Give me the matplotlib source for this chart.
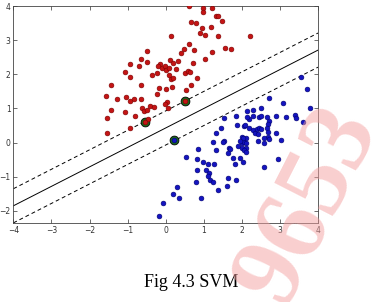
import numpy as np
import matplotlib
matplotlib.use("Agg")
import matplotlib.pyplot as plt

# Class 1 (red) points
red_x = [0.15, -0.50, 0.49, 0.40, 0.32, 0.10, 0.19, -0.65, -0.50, -0.95, -0.71, -0.14, -0.19, -0.09,
         -0.01, 0.02, 0.09, -0.23, 0.28, 0.51, -1.06, -0.94, -0.37, 0.09, 0.14, 0.20, -1.43, -0.65,
         -0.18, 0.00, 0.16, 0.54, -1.57, -1.29, -1.03, -0.93, -0.83, -0.65, -0.23, 0.03, -0.01, -1.45,
         -1.07, -0.63, -0.57, -0.49, -0.41, -0.32, 0.06, -1.53, -0.81, -1.54, -0.93, -0.47,
         0.61, 0.98, 0.98, 1.22, 1.31, 1.38, 0.66, 0.80, 1.47, 0.95, 1.20, 0.90, 1.04, 1.38, 2.21,
         0.61, 1.56, 1.72, 0.75, 1.22, 1.02, 0.72, 0.58, 0.64, 0.82, 0.67, -0.55, 0.51]
red_y = [3.11, 2.67, 2.75, 2.62, 2.39, 2.42, 2.34, 2.46, 2.37, 2.29, 2.23, 2.31, 2.25, 2.20,
         2.23, 2.13, 2.20, 2.05, 2.15, 2.03, 2.07, 1.93, 1.97, 1.97, 1.85, 1.89, 1.70, 1.68,
         1.60, 1.56, 1.63, 1.54, 1.37, 1.29, 1.33, 1.21, 1.29, 1.29, 1.41, 1.20, 1.13, 0.97,
         0.91, 1.01, 0.92, 0.97, 1.07, 1.04, 1.02, 0.73, 0.77, 0.28, 0.44, 0.70,
         4.00, 3.93, 3.83, 3.93, 3.71, 3.70, 3.54, 3.50, 3.55, 3.36, 3.40, 3.20, 3.15, 3.12, 3.13,
         2.88, 2.77, 2.74, 2.71, 2.66, 2.44, 2.32, 2.10, 2.07, 1.90, 1.68, 0.61, 1.21]

# Class 2 (blue) points
blue_x = [3.54, 3.71, 2.70, 3.09, 3.78, 2.14, 2.28, 2.49, 1.84, 1.53, 2.29, 2.45, 2.50, 2.89, 3.17,
          3.39, 3.43, 2.19, 2.14, 2.67, 2.71, 2.69, 3.60, 1.45, 1.87, 2.05, 2.07, 2.19, 2.29, 2.34,
          2.41, 2.40, 2.45, 2.51, 2.66, 2.69, 2.89, 1.33, 2.00, 2.69, 2.71, 3.02, 2.41, 2.57, 1.24,
          1.53, 1.50, 1.99, 2.05, 2.11, 1.90, 2.01, 2.10, 2.05, 2.12, 1.65, 1.68, 1.31, 1.64, 0.85,
          0.54, 0.82, 0.98, 1.11, 1.28, 1.77, 1.96, 1.81, 2.03, 2.95, 2.59, 0.82, 1.07, 1.14, 1.11,
          1.15, 1.24, 0.80, 1.64, 1.84, 1.61, 1.36, 0.93, 0.29, 0.19, 0.35, -0.08, -0.18, 2.12, 2.03,
          1.96, 2.57, 0.22]
blue_y = [1.93, 1.56, 1.30, 1.16, 1.01, 0.93, 0.96, 1.00, 0.77, 0.72, 0.79, 0.76, 0.77, 0.79, 0.76,
          0.82, 0.72, 0.70, 0.76, 0.76, 0.63, 0.56, 0.60, 0.43, 0.51, 0.48, 0.53, 0.43, 0.36, 0.28,
          0.26, 0.41, 0.43, 0.40, 0.43, 0.30, 0.28, 0.28, 0.16, 0.17, 0.11, 0.07, 0.06, 0.00, 0.02,
          0.06, 0.02, -0.01, 0.02, -0.01, -0.09, -0.16, -0.16, -0.23, -0.26, -0.16, -0.19, -0.23, -0.30, -0.18,
          -0.41, -0.48, -0.57, -0.62, -0.62, -0.45, -0.45, -0.62, -0.58, -0.48, -0.72, -0.79, -0.79, -0.89, -0.99,
          -1.09, -1.14, -1.14, -1.04, -1.09, -1.26, -1.40, -1.63, -1.31, -1.51, -1.61, -1.78, -2.15, 0.14, 0.14,
          0.06, 0.14, 0.08]

# Support vectors
sv_x = [-0.55, 0.51, 0.22]
sv_y = [0.61, 1.21, 0.08]

# Separating hyperplane  y = w*x + b and margins
slope = 0.57
intercept = 0.43
margin = 0.5

x_ticks = [-4, -3, -2, -1, 0, 1, 2, 3, 4]
y_ticks = [-2, -1, 0, 1, 2, 3, 4]

fig = plt.figure(figsize=(3.72, 3.02), dpi=100)
ax = fig.add_axes([0.036, 0.262, 0.819, 0.718])

xx = np.linspace(-4, 4, 50)
ax.plot(xx, slope * xx + intercept, 'k-', lw=0.7)
ax.plot(xx, slope * xx + intercept + margin, 'k--', lw=0.7, dashes=(4, 3))
ax.plot(xx, slope * xx + intercept - margin, 'k--', lw=0.7, dashes=(4, 3))

ax.scatter(sv_x, sv_y, s=40, c='#1c6b1c', edgecolors='k', linewidths=0.6, zorder=3)
ax.scatter(red_x, red_y, s=12, c='#c41414', edgecolors='#7a0000', linewidths=0.4, zorder=4)
ax.scatter(blue_x, blue_y, s=12, c='#1414c0', edgecolors='#00006e', linewidths=0.4, zorder=4)

ax.set_xlim(-4, 4)
ax.set_ylim(-2.35, 4)
ax.set_xticks(x_ticks)
ax.set_yticks(y_ticks)
ax.tick_params(direction='in', length=3, width=0.5, labelsize=5.5, pad=2,
               top=True, right=True, colors='#333333')
for s in ax.spines.values():
    s.set_linewidth(0.6)
    s.set_color('#444444')

fig.text(0.513, 0.063, "Fig 4.3 SVM", ha='center', va='center',
         family='Liberation Serif', fontsize=13)

fig.text(0.83, 0.32, "9653", rotation=63, ha='center', va='center',
         family='Liberation Serif', fontsize=74, fontweight='bold',
         color='#f4a0a0', alpha=0.5, zorder=10)

fig.savefig("out.png", dpi=100)
